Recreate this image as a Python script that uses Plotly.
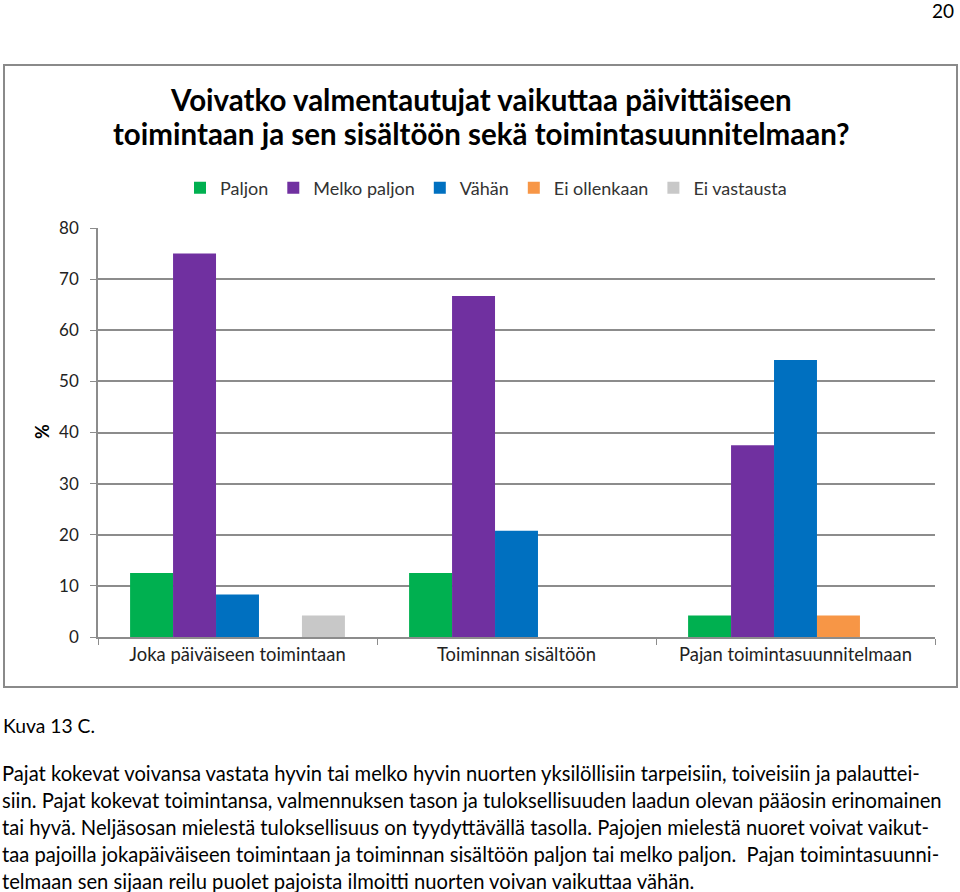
import plotly.graph_objects as go

categories = ["Joka päiväiseen toimintaan", "Toiminnan sisältöön", "Pajan toimintasuunnitelmaan"]
series_names = ["Paljon", "Melko paljon", "Vähän", "Ei ollenkaan", "Ei vastausta"]
paljon = [12.5, 12.5, 4.2]
melko_paljon = [75.0, 66.7, 37.5]
vahan = [8.3, 20.8, 54.2]
ei_ollenkaan = [0, 0, 4.2]
ei_vastausta = [4.2, 0, 0]
colors = ["#00B050", "#7030A0", "#0070C0", "#F79646", "#C8C8C8"]
y_ticks = [0, 10, 20, 30, 40, 50, 60, 70, 80]

title_lines = ["Voivatko valmentautujat vaikuttaa päivittäiseen",
               "toimintaan ja sen sisältöön sekä toimintasuunnitelmaan?"]
caption = "Kuva 13 C."
body_lines = [
    "Pajat kokevat voivansa vastata hyvin tai melko hyvin nuorten yksilöllisiin tarpeisiin, toiveisiin ja palauttei-",
    "siin. Pajat kokevat toimintansa, valmennuksen tason ja tuloksellisuuden laadun olevan pääosin erinomainen",
    "tai hyvä. Neljäsosan mielestä tuloksellisuus on tyydyttävällä tasolla. Pajojen mielestä nuoret voivat vaikut-",
    "taa pajoilla jokapäiväiseen toimintaan ja toiminnan sisältöön paljon tai melko paljon.  Pajan toimintasuunni-",
    "telmaan sen sijaan reilu puolet pajoista ilmoitti nuorten voivan vaikuttaa vähän.",
]
page_number = "20"

W, H = 960, 892
L, R, T, B = 98, 935, 228, 637  # plot area in pixels
FONT = "Lato"

def px(x):
    return (x - L) / (R - L)

def py(y):
    return (B - y) / (B - T)

values = [paljon, melko_paljon, vahan, ei_ollenkaan, ei_vastausta]
fig = go.Figure()
for name, vals, col in zip(series_names, values, colors):
    fig.add_trace(go.Bar(x=categories, y=vals, name=name, marker_color=col,
                         marker_line_width=0))

fig.update_layout(
    width=W, height=H,
    margin=dict(l=L, r=W - R, t=T, b=H - B, pad=0),
    paper_bgcolor="white", plot_bgcolor="white",
    barmode="group", bargap=0.23, bargroupgap=0,
    font=dict(family=FONT, size=16, color="#222"),
    showlegend=True,
    legend=dict(orientation="h", x=px(486), xanchor="center", y=py(188), yanchor="middle",
                font=dict(size=18, color="#333"), itemwidth=30, tracegroupgap=0,
                bgcolor="rgba(0,0,0,0)"),
)
fig.update_yaxes(range=[0, 80], tickvals=y_ticks, showgrid=True, gridcolor="#8c8c8c", gridwidth=1.5,
                 showline=True, linecolor="#8c8c8c", linewidth=1.5, ticks="outside", ticklen=6,
                 tickcolor="#8c8c8c", tickfont=dict(size=17, color="#222"), zeroline=False,
                 ticklabelstandoff=8)
fig.update_xaxes(showline=True, linecolor="#8c8c8c", linewidth=1.5, ticks="outside", ticklen=6,
                 tickcolor="#8c8c8c", tickson="boundaries", tickfont=dict(size=18.4, color="#222"),
                 mirror=False)

# chart box border
fig.add_shape(type="rect", xref="paper", yref="paper",
              x0=px(4), x1=px(957), y0=py(687), y1=py(65),
              line=dict(color="#8a8a8a", width=2), fillcolor="rgba(0,0,0,0)", layer="below")

ann = []
for i, t in enumerate(title_lines):
    ann.append(dict(text="<b>" + t + "</b>", x=px(481), y=py(100 + 34 * i), xref="paper", yref="paper",
                    xanchor="center", yanchor="middle", showarrow=False,
                    font=dict(size=29.5, color="#000", family=FONT)))
ann.append(dict(text="<b>%</b>", x=px(42), y=py(432), xref="paper", yref="paper", textangle=-90,
                xanchor="center", yanchor="middle", showarrow=False, font=dict(size=18, color="#000")))
ann.append(dict(text=caption, x=px(1), y=py(725), xref="paper", yref="paper",
                xanchor="left", yanchor="middle", showarrow=False, font=dict(size=19.3, color="#000")))
for i, t in enumerate(body_lines):
    ann.append(dict(text=t, x=px(1), y=py(772.5 + 27 * i), xref="paper", yref="paper",
                    xanchor="left", yanchor="middle", showarrow=False, borderpad=0,
                    font=dict(size=20.2, color="#000")))
ann.append(dict(text=page_number, x=px(955), y=py(10), xref="paper", yref="paper",
                xanchor="right", yanchor="middle", showarrow=False, borderpad=0,
                font=dict(size=19, color="#000")))
fig.update_layout(annotations=ann)

fig.write_html("out.html", config={"displayModeBar": False},
               post_script="document.body.style.margin='0px';")
